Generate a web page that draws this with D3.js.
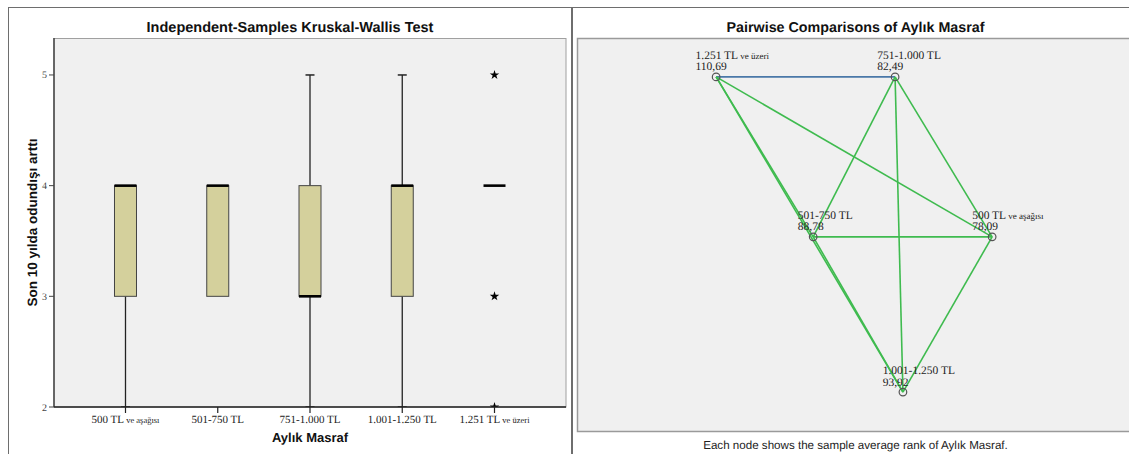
<!DOCTYPE html>
<html>
<head>
<meta charset="utf-8">
<script src="https://cdn.jsdelivr.net/npm/d3@7"></script>
<style>
  body { margin: 0; background: #fff; }
  svg { display: block; }
  text, tspan { text-rendering: geometricPrecision; }
</style>
</head>
<body>
<svg id="chart" width="1129" height="454"></svg>
<script>
// ---------- data ----------
const categories = ["500 TL ve aşağısı", "501-750 TL", "751-1.000 TL", "1.001-1.250 TL", "1.251 TL ve üzeri"];
const catMain = ["500 TL", "501-750 TL", "751-1.000 TL", "1.001-1.250 TL", "1.251 TL"];
const catSuffix = [" ve aşağısı", "", "", "", " ve üzeri"];
const whiskerLow = [2, 3, 2, 2, 4];
const q1 = [3, 3, 3, 3, 4];
const median = [4, 4, 3, 4, 4];
const q3 = [4, 4, 4, 4, 4];
const whiskerHigh = [4, 4, 5, 5, 4];
const outlierCat = ["1.251 TL ve üzeri", "1.251 TL ve üzeri", "1.251 TL ve üzeri"];
const outlierVal = [5, 3, 2];
const yTicks = [2, 3, 4, 5];

// pairwise comparisons
const nodeNames = ["1.251 TL ve üzeri", "751-1.000 TL", "501-750 TL", "500 TL ve aşağısı", "1.001-1.250 TL"];
const nodeMain = ["1.251 TL", "751-1.000 TL", "501-750 TL", "500 TL", "1.001-1.250 TL"];
const nodeSuffix = [" ve üzeri", "", "", " ve aşağısı", ""];
const nodeRank = ["110,69", "82,49", "88,78", "78,09", "93,92"];
// node layout positions (relative 0..1 within the network frame)
const nodeLayoutX = [0.248, 0.567, 0.421, 0.740, 0.581];
const nodeLayoutY = [0.099, 0.099, 0.506, 0.506, 0.901];
const edgeFrom = [0, 0, 0, 0, 1, 1, 1, 2, 2, 3];
const edgeTo   = [1, 2, 3, 4, 2, 3, 4, 3, 4, 4];
const edgeType = ["b", "g", "g", "g", "g", "g", "g", "g", "g", "g"];

// ---------- drawing ----------
const svg = d3.select("#chart");
const serif = "'Liberation Serif', 'DejaVu Serif', serif";
const sans = "'Liberation Sans', Arial, sans-serif";

// outer frame lines
svg.append("line").attr("x1", 8).attr("x2", 1129).attr("y1", 7.5).attr("y2", 7.5).attr("stroke", "#6e6e6e");
svg.append("line").attr("x1", 8.5).attr("x2", 8.5).attr("y1", 7).attr("y2", 454).attr("stroke", "#6e6e6e");
svg.append("line").attr("x1", 572).attr("x2", 572).attr("y1", 7).attr("y2", 454).attr("stroke", "#6e6e6e").attr("stroke-width", 2);

// ===== Left: box plot =====
const L = { left: 54, right: 566, top: 38, bottom: 407 };
svg.append("text").attr("x", 290).attr("y", 32).attr("text-anchor", "middle")
  .attr("font-family", sans).attr("font-weight", "bold").attr("font-size", 14.5).attr("fill", "#111")
  .text("Independent-Samples Kruskal-Wallis Test");

svg.append("rect").attr("x", L.left).attr("y", L.top + 0.5)
  .attr("width", L.right - L.left).attr("height", L.bottom - L.top - 0.5)
  .attr("fill", "#f0f0f0").attr("stroke", "#a0a0a0");

const x = d3.scalePoint().domain(categories).range([L.left, L.right]).padding(0.775);
const y = d3.scaleLinear().domain([2, 5.334]).range([L.bottom, L.top]);

const clip = svg.append("clipPath").attr("id", "plotclip");
clip.append("rect").attr("x", L.left).attr("y", L.top).attr("width", L.right - L.left).attr("height", L.bottom - L.top);

const boxW = 22;
const capW = 9;
const g = svg.append("g").attr("clip-path", "url(#plotclip)");
categories.forEach((c, i) => {
  const cx = x(c);
  if (whiskerHigh[i] > q3[i]) {
    g.append("line").attr("x1", cx).attr("x2", cx).attr("y1", y(q3[i])).attr("y2", y(whiskerHigh[i]))
      .attr("stroke", "#222").attr("stroke-width", 1.3);
    g.append("line").attr("x1", cx - capW / 2).attr("x2", cx + capW / 2).attr("y1", y(whiskerHigh[i])).attr("y2", y(whiskerHigh[i]))
      .attr("stroke", "#222").attr("stroke-width", 1.5);
  }
  if (whiskerLow[i] < q1[i]) {
    g.append("line").attr("x1", cx).attr("x2", cx).attr("y1", y(q1[i])).attr("y2", y(whiskerLow[i]))
      .attr("stroke", "#222").attr("stroke-width", 1.3);
    g.append("line").attr("x1", cx - capW / 2).attr("x2", cx + capW / 2).attr("y1", y(whiskerLow[i])).attr("y2", y(whiskerLow[i]))
      .attr("stroke", "#222").attr("stroke-width", 1.5);
  }
  if (q3[i] > q1[i]) {
    g.append("rect").attr("x", cx - boxW / 2).attr("y", y(q3[i])).attr("width", boxW).attr("height", y(q1[i]) - y(q3[i]))
      .attr("fill", "#d4d09c").attr("stroke", "#444").attr("stroke-width", 1);
  }
  g.append("line").attr("x1", cx - boxW / 2).attr("x2", cx + boxW / 2).attr("y1", y(median[i])).attr("y2", y(median[i]))
    .attr("stroke", "#000").attr("stroke-width", 2.6);
});

// outliers (stars)
outlierVal.forEach((v, i) => {
  g.append("path").attr("d", d3.symbol().type(d3.symbolStar).size(28)())
    .attr("transform", `translate(${x(outlierCat[i])},${y(v)})`).attr("fill", "#000");
});

// axes
const yAxis = svg.append("g");
yAxis.append("line").attr("x1", L.left).attr("x2", L.left).attr("y1", L.top).attr("y2", L.bottom).attr("stroke", "#444").attr("stroke-width", 1.5);
yTicks.forEach(t => {
  yAxis.append("line").attr("x1", L.left - 5).attr("x2", L.left).attr("y1", y(t)).attr("y2", y(t)).attr("stroke", "#444");
  yAxis.append("text").attr("x", L.left - 7).attr("y", y(t) + 3.5).attr("text-anchor", "end")
    .attr("font-family", serif).attr("font-size", 10).attr("fill", "#444").text(t);
});
const xAxis = svg.append("g");
xAxis.append("line").attr("x1", L.left).attr("x2", L.right).attr("y1", L.bottom).attr("y2", L.bottom).attr("stroke", "#222").attr("stroke-width", 1.5);
categories.forEach((c, i) => {
  xAxis.append("line").attr("x1", x(c)).attr("x2", x(c)).attr("y1", L.bottom).attr("y2", L.bottom + 6).attr("stroke", "#222").attr("stroke-width", 1.2);
  const t = xAxis.append("text").attr("x", x(c)).attr("y", L.bottom + 16).attr("text-anchor", "middle")
    .attr("font-family", serif).attr("font-size", 11).attr("fill", "#222");
  t.append("tspan").attr("fill", "#222").text(catMain[i]);
  if (catSuffix[i]) t.append("tspan").attr("font-size", 8.5).attr("fill", "#222").text(catSuffix[i]);
});

svg.append("text").attr("x", (L.left + L.right) / 2).attr("y", 442).attr("text-anchor", "middle")
  .attr("font-family", sans).attr("font-weight", "bold").attr("font-size", 13).attr("fill", "#111").text("Aylık Masraf");
svg.append("text").attr("transform", `translate(37,${(L.top + L.bottom) / 2}) rotate(-90)`).attr("text-anchor", "middle")
  .attr("font-family", sans).attr("font-weight", "bold").attr("font-size", 13.5).attr("fill", "#111").text("Son 10 yılda odundışı arttı");

// ===== Right: pairwise network =====
const R = { left: 577, right: 1138, top: 38, bottom: 431 };
svg.append("text").attr("x", (R.left + R.right) / 2 - 2).attr("y", 32).attr("text-anchor", "middle")
  .attr("font-family", sans).attr("font-weight", "bold").attr("font-size", 14.3).attr("fill", "#111")
  .text("Pairwise Comparisons of Aylık Masraf");
svg.append("rect").attr("x", R.left + 0.5).attr("y", R.top + 0.5)
  .attr("width", R.right - R.left).attr("height", R.bottom - R.top)
  .attr("fill", "#f0f0f0").attr("stroke", "#9a9a9a").attr("stroke-width", 1.5);
svg.append("text").attr("x", (R.left + R.right) / 2 - 2).attr("y", 449).attr("text-anchor", "middle")
  .attr("font-family", sans).attr("font-size", 11.6).attr("fill", "#222")
  .text("Each node shows the sample average rank of Aylık Masraf.");

const nx = d3.scaleLinear().domain([0, 1]).range([R.left, R.right]);
const ny = d3.scaleLinear().domain([0, 1]).range([R.top, R.bottom]);
const edgeColor = { b: "#4a78a8", g: "#3fbb4f" };

const ng = svg.append("g");
edgeFrom.forEach((f, i) => {
  const t = edgeTo[i];
  ng.append("line")
    .attr("x1", nx(nodeLayoutX[f])).attr("y1", ny(nodeLayoutY[f]))
    .attr("x2", nx(nodeLayoutX[t])).attr("y2", ny(nodeLayoutY[t]))
    .attr("stroke", edgeColor[edgeType[i]]).attr("stroke-width", 1.6);
});
nodeNames.forEach((n, i) => {
  const cx = nx(nodeLayoutX[i]), cy = ny(nodeLayoutY[i]);
  ng.append("circle").attr("cx", cx).attr("cy", cy).attr("r", 3.8)
    .attr("fill", "none").attr("stroke", "#555").attr("stroke-width", 1.2);
  const lab = ng.append("g");
  const t1 = lab.append("text").attr("y", cy - 18).attr("font-family", serif).attr("font-size", 11.5).attr("fill", "#222");
  t1.append("tspan").attr("fill", "#222").text(nodeMain[i]);
  if (nodeSuffix[i]) t1.append("tspan").attr("font-size", 9).attr("fill", "#222").text(nodeSuffix[i]);
  const t2 = lab.append("text").attr("y", cy - 6.5).attr("font-family", serif).attr("font-size", 11.5).attr("fill", "#222").text(nodeRank[i]);
  const w = t1.node().getComputedTextLength();
  const x0 = cx - 0.28 * w;
  t1.attr("x", x0); t2.attr("x", x0);
});
</script>
</body>
</html>
